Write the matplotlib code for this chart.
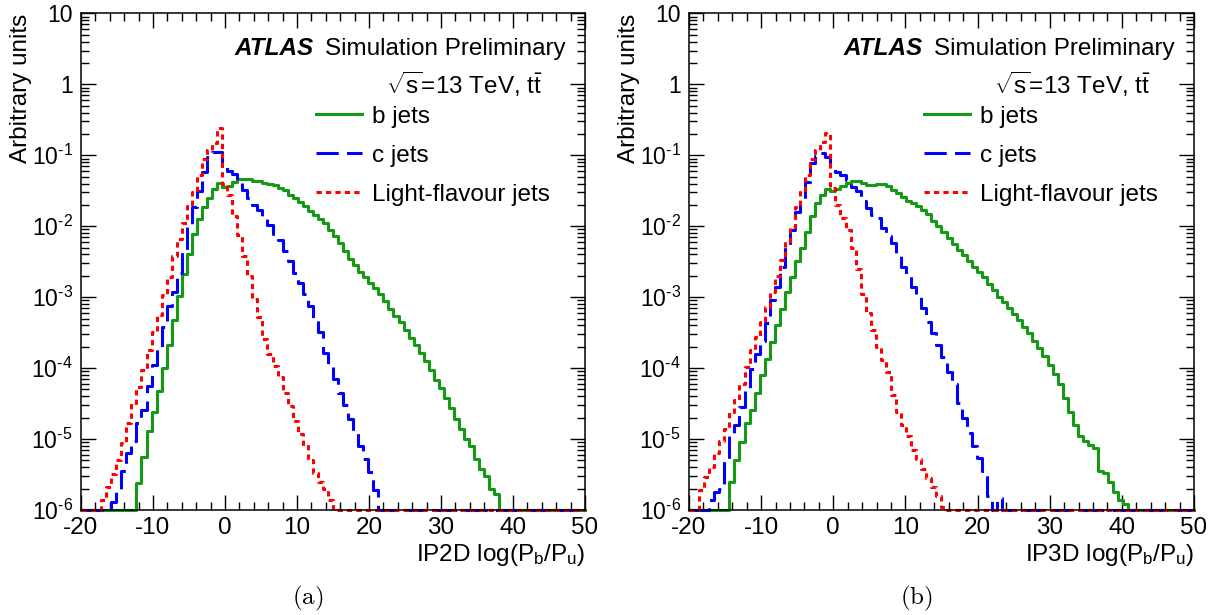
import numpy as np
import matplotlib
matplotlib.use("Agg")
import matplotlib.pyplot as plt
from matplotlib.ticker import FixedLocator, FixedFormatter, LogLocator, MultipleLocator, NullFormatter

plt.rcParams["font.family"] = ["Liberation Sans", "DejaVu Sans"]
plt.rcParams["mathtext.fontset"] = "custom"
plt.rcParams["mathtext.rm"] = "Liberation Sans"
plt.rcParams["mathtext.it"] = "Liberation Sans:italic"
plt.rcParams["mathtext.bf"] = "Liberation Sans:bold"
plt.rcParams["axes.unicode_minus"] = False
plt.rcParams["lines.scale_dashes"] = False

# binning: 100 bins of 0.7 from -20 to 50
x_min, x_max, n_bins = -20.0, 50.0, 100

# bin contents, starting at the first non-empty bin
ip2d_b_first = 11
ip2d_b = [2.4e-6, 5.6e-6, 1.3e-5, 2.4e-5, 4.8e-5, 1.0e-4, 2.1e-4, 4.7e-4, 1.05e-3, 2.1e-3,
          4.0e-3, 7.9e-3, 1.26e-2, 1.86e-2, 2.5e-2, 3.4e-2, 4.1e-2, 3.6e-2, 3.7e-2, 4.2e-2,
          4.6e-2, 4.7e-2, 4.6e-2, 4.4e-2, 4.3e-2, 4.1e-2, 3.9e-2, 3.8e-2, 3.5e-2, 3.2e-2,
          2.8e-2, 2.5e-2, 2.2e-2, 1.9e-2, 1.66e-2, 1.45e-2, 1.26e-2, 1.1e-2, 8.9e-3, 7.2e-3,
          5.8e-3, 4.5e-3, 3.5e-3, 2.8e-3, 2.3e-3, 1.9e-3, 1.6e-3, 1.35e-3, 1.1e-3, 8.9e-4,
          6.9e-4, 5.5e-4, 4.4e-4, 3.5e-4, 2.7e-4, 2.1e-4, 1.66e-4, 1.26e-4, 9.3e-5, 6.9e-5,
          5.2e-5, 3.8e-5, 2.7e-5, 1.9e-5, 1.4e-5, 1.0e-5, 7.9e-6, 5.2e-6, 3.8e-6, 3.0e-6,
          2.0e-6, 1.7e-6]

ip2d_c_first = 6
ip2d_c = [1.3e-6, 2.0e-6, 3.5e-6, 6.3e-6, 9.5e-6, 1.66e-5, 2.6e-5, 5.6e-5, 1.12e-4, 2.0e-4,
          3.8e-4, 7.6e-4, 1.2e-3, 2.2e-3, 4.5e-3, 1.0e-2, 1.86e-2, 3.1e-2, 5.9e-2, 9.5e-2,
          0.112, 0.110, 7.9e-2, 6.0e-2, 5.4e-2, 4.2e-2, 3.2e-2, 2.5e-2, 2.0e-2, 1.7e-2,
          1.3e-2, 1.05e-2, 7.9e-3, 6.3e-3, 4.5e-3, 3.2e-3, 2.2e-3, 1.6e-3, 1.12e-3, 7.6e-4,
          5.0e-4, 3.2e-4, 1.66e-4, 1.07e-4, 7.1e-5, 4.5e-5, 3.0e-5, 1.9e-5, 1.26e-5, 7.9e-6,
          5.2e-6, 3.4e-6, 1.9e-6]

ip2d_light_first = 4
ip2d_light = [1.4e-6, 2.1e-6, 3.2e-6, 5.0e-6, 8.9e-6, 1.66e-5, 3.2e-5, 5.5e-5, 9.3e-5, 1.8e-4,
              3.2e-4, 5.6e-4, 1.07e-3, 1.95e-3, 3.8e-3, 6.6e-3, 1.12e-2, 1.9e-2, 3.0e-2, 5.2e-2,
              8.9e-2, 0.117, 0.151, 0.240, 4.0e-2, 2.8e-2, 1.4e-2, 7.6e-3, 3.8e-3, 2.0e-3,
              9.3e-4, 5.2e-4, 2.6e-4, 1.6e-4, 1.07e-4, 7.6e-5, 4.5e-5, 2.9e-5, 1.8e-5, 1.17e-5,
              7.9e-6, 5.0e-6, 3.3e-6, 2.5e-6, 2.0e-6, 1.4e-6]

ip3d_b_first = 8
ip3d_b = [2.5e-6, 5.0e-6, 9.1e-6, 1.66e-5, 2.6e-5, 4.4e-5, 7.9e-5, 1.35e-4, 2.3e-4, 4.1e-4,
          6.9e-4, 1.2e-3, 1.95e-3, 3.2e-3, 4.9e-3, 8.3e-3, 1.4e-2, 2.1e-2, 2.75e-2, 3.3e-2,
          3.1e-2, 3.4e-2, 3.7e-2, 4.1e-2, 4.3e-2, 4.3e-2, 4.1e-2, 3.8e-2, 3.8e-2, 4.0e-2,
          4.0e-2, 3.7e-2, 3.2e-2, 2.9e-2, 2.6e-2, 2.3e-2, 2.1e-2, 1.9e-2, 1.7e-2, 1.48e-2,
          1.2e-2, 1.0e-2, 8.3e-3, 6.9e-3, 5.6e-3, 4.7e-3, 3.9e-3, 3.2e-3, 2.7e-3, 2.3e-3,
          1.9e-3, 1.55e-3, 1.26e-3, 1.02e-3, 8.5e-4, 7.1e-4, 5.8e-4, 4.7e-4, 3.8e-4, 3.1e-4,
          2.45e-4, 1.95e-4, 1.5e-4, 1.12e-4, 8.3e-5, 6.0e-5, 3.8e-5, 2.4e-5, 1.6e-5, 1.12e-5,
          9.5e-6, 8.3e-6, 7.4e-6, 3.6e-6, 3.3e-6, 2.5e-6, 1.8e-6, 1.4e-6, 1.23e-6]

ip3d_c_first = 4
ip3d_c = [1.4e-6, 1.8e-6, 2.0e-6, 5.0e-6, 1.12e-5, 1.6e-5, 2.8e-5, 5.0e-5, 9.8e-5, 1.6e-4,
          2.45e-4, 4.3e-4, 9.1e-4, 1.4e-3, 2.7e-3, 5.4e-3, 8.9e-3, 1.6e-2, 2.4e-2, 4.2e-2,
          7.9e-2, 9.8e-2, 0.107, 9.5e-2, 7.2e-2, 5.9e-2, 5.2e-2, 4.5e-2, 3.6e-2, 3.1e-2,
          2.3e-2, 1.8e-2, 1.45e-2, 1.3e-2, 9.3e-3, 7.4e-3, 5.8e-3, 4.2e-3, 2.7e-3, 2.1e-3,
          1.4e-3, 1.02e-3, 7.1e-4, 4.5e-4, 3.1e-4, 2.1e-4, 1.45e-4, 8.9e-5, 6.0e-5, 3.2e-5,
          2.0e-5, 1.2e-5, 8.1e-6, 5.4e-6, 3.5e-6, 1.6e-6, 0.0, 1.5e-6]

ip3d_light_first = 2
ip3d_light = [1.9e-6, 2.95e-6, 4.1e-6, 6.3e-6, 9.5e-6, 1.4e-5, 2.4e-5, 3.5e-5, 6.0e-5, 1.05e-4,
              1.8e-4, 2.75e-4, 4.5e-4, 7.2e-4, 1.2e-3, 2.0e-3, 3.3e-3, 5.8e-3, 9.8e-3, 1.86e-2,
              3.2e-2, 5.2e-2, 8.9e-2, 0.120, 0.155, 0.209, 3.5e-2, 2.0e-2, 1.3e-2, 8.9e-3,
              5.0e-3, 2.5e-3, 1.12e-3, 6.0e-4, 3.4e-4, 2.0e-4, 1.3e-4, 8.7e-5, 4.2e-5, 2.4e-5,
              1.6e-5, 1.1e-5, 7.1e-6, 5.2e-6, 3.8e-6, 2.8e-6, 2.1e-6, 1.6e-6, 1.1e-6]

labels = ["b jets", "c jets", "Light-flavour jets"]
y_ticks = [1e-6, 1e-5, 1e-4, 1e-3, 1e-2, 1e-1, 1, 10]
y_ticklabels = [r"$\mathregular{10^{\text{-}6}}$", r"$\mathregular{10^{\text{-}5}}$",
                r"$\mathregular{10^{\text{-}4}}$", r"$\mathregular{10^{\text{-}3}}$",
                r"$\mathregular{10^{\text{-}2}}$", r"$\mathregular{10^{\text{-}1}}$",
                "1", "10"]


def full(first, vals):
    h = np.zeros(n_bins)
    h[first:first + len(vals)] = vals
    return h


edges = np.linspace(x_min, x_max, n_bins + 1)
fs = 17.5
styles = [dict(color="#149a14", ls="-"),
          dict(color="#0000ff", dashes=(16, 6)),
          dict(color="#ff0000", dashes=(3.8, 3))]

panels = [
    ([full(ip2d_b_first, ip2d_b), full(ip2d_c_first, ip2d_c), full(ip2d_light_first, ip2d_light)],
     "IP2D", "(a)", [0.0666, 0.1707, 0.4145, 0.8075]),
    ([full(ip3d_b_first, ip3d_b), full(ip3d_c_first, ip3d_c), full(ip3d_light_first, ip3d_light)],
     "IP3D", "(b)", [0.5666, 0.1707, 0.4153, 0.8075]),
]

fig = plt.figure(figsize=(12.16, 6.15), dpi=100)

for hists, tagger, caption, rect in panels:
    ax = fig.add_axes(rect)
    for h, lab, st in zip(hists, labels, styles):
        y = np.clip(h, 1e-6, None)
        ax.step(edges, np.append(y, y[-1]), where="post", lw=2.2, label=lab,
                clip_on=False, **st)

    ax.set_yscale("log")
    ax.set_xlim(x_min, x_max)
    ax.set_ylim(1e-6, 10)
    ax.xaxis.set_major_locator(MultipleLocator(10))
    ax.xaxis.set_minor_locator(MultipleLocator(2))
    ax.yaxis.set_major_locator(FixedLocator(y_ticks))
    ax.yaxis.set_major_formatter(FixedFormatter(y_ticklabels))
    ax.yaxis.set_minor_locator(LogLocator(base=10, subs=np.arange(2, 10), numticks=30))
    ax.yaxis.set_minor_formatter(NullFormatter())
    ax.tick_params(which="both", direction="in", top=True, right=True, width=1)
    ax.tick_params(which="major", length=10.5)
    ax.tick_params(which="minor", length=5.5)
    ax.tick_params(axis="y", pad=6, labelsize=16.5)
    ax.tick_params(axis="x", pad=5, labelsize=17.5)
    for sp in ax.spines.values():
        sp.set_linewidth(1.1)

    ax.set_ylabel("Arbitrary units", fontsize=fs, loc="top")
    ax.yaxis.set_label_coords(-0.097, 1.0)
    ax.set_xlabel(tagger + r" log(P$_\mathregular{b}$/P$_\mathregular{u}$)", fontsize=fs, loc="right")
    ax.xaxis.set_label_coords(1.0, -0.064)

    ax.text(0.462, 0.916, "ATLAS", transform=ax.transAxes, ha="right", va="baseline",
            fontsize=fs, fontweight="bold", fontstyle="italic")
    ax.text(0.961, 0.916, "Simulation Preliminary", transform=ax.transAxes, ha="right",
            va="baseline", fontsize=fs)
    ax.text(0.915, 0.838, r"$\mathregular{\sqrt{s}}$=13 TeV, $\mathregular{t\bar{t}}$",
            transform=ax.transAxes, ha="right", va="baseline", fontsize=fs)

    ax.legend(loc="upper left", bbox_to_anchor=(0.466, 0.814), frameon=False, fontsize=fs,
              borderpad=0, borderaxespad=0, handlelength=1.9, handletextpad=0.4,
              labelspacing=0.7)

    fig.text(rect[0] + rect[2] * 0.45, 1 - 598 / 615, r"$\mathrm{" + caption + "}$",
             math_fontfamily="cm", fontsize=18, ha="center", va="center")

fig.savefig("out.png", dpi=100)
